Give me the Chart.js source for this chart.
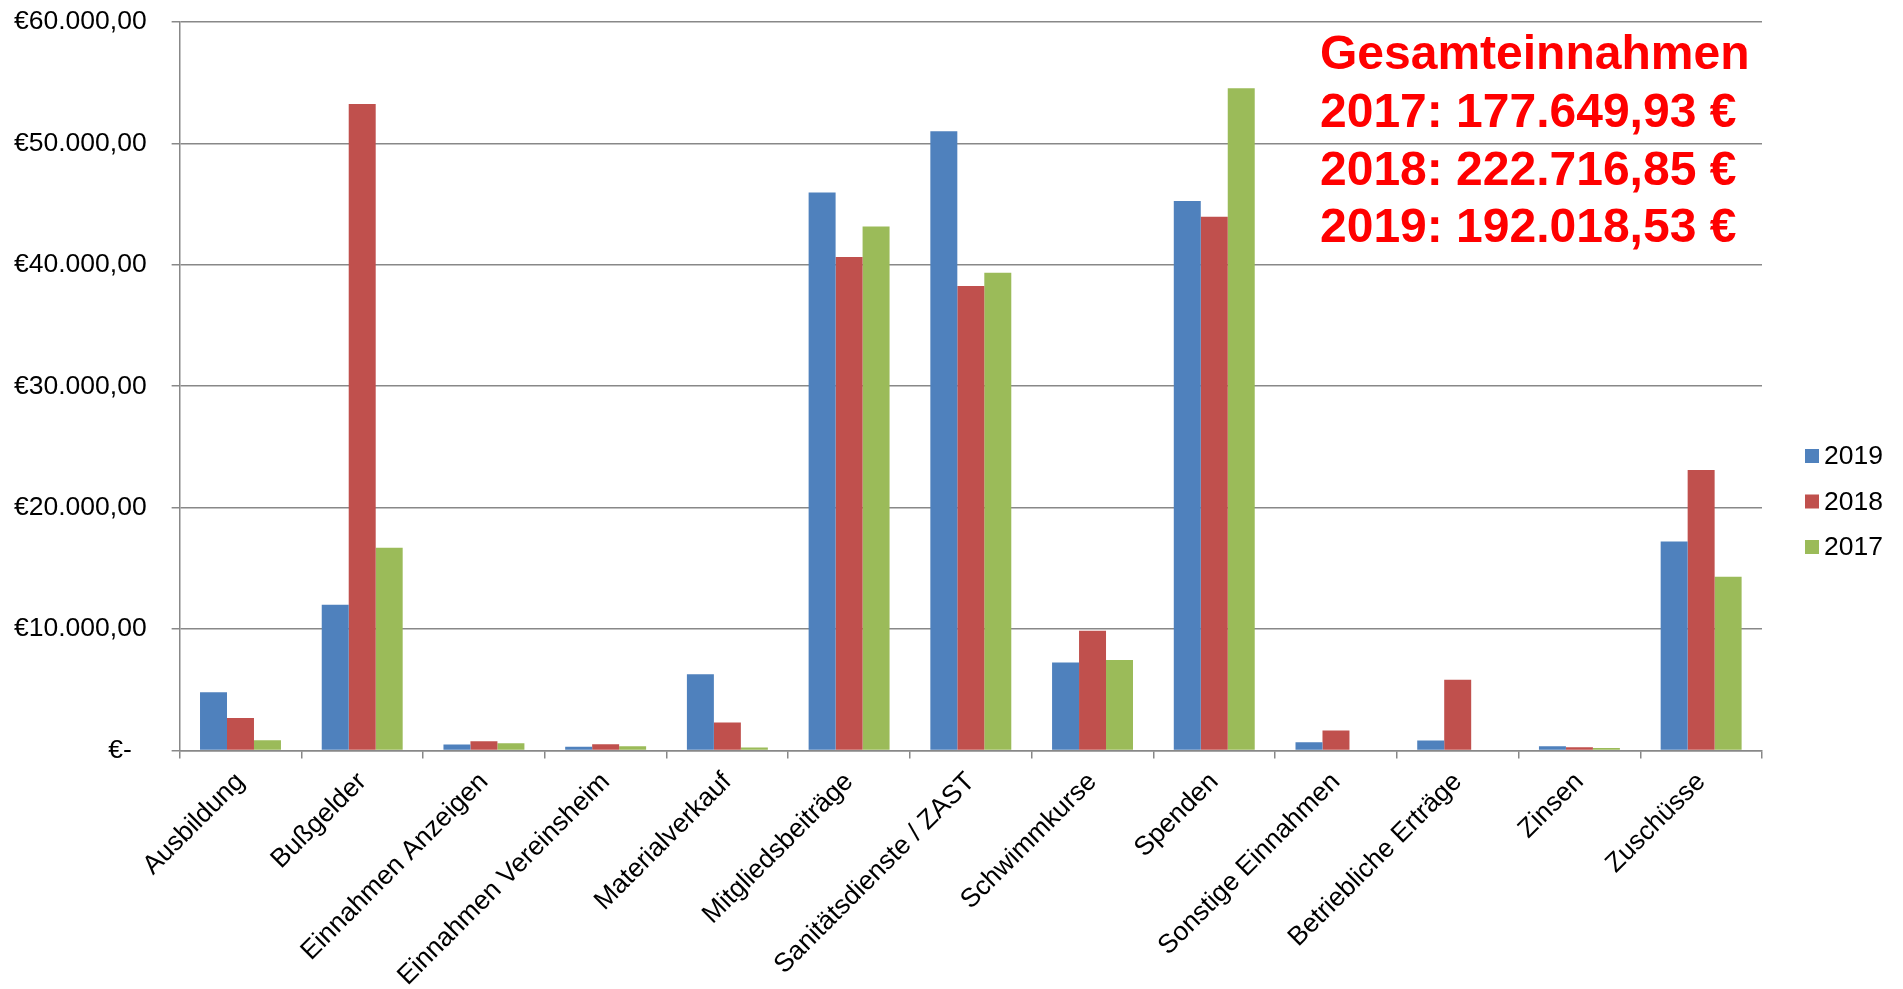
<!DOCTYPE html>
<html><head><meta charset="utf-8">
<script src="https://cdn.jsdelivr.net/npm/chart.js@4/dist/chart.umd.min.js"></script>
<style>html,body{margin:0;padding:0;background:#fff;overflow:hidden}</style>
</head><body>
<canvas id="c" width="1903" height="989" style="display:block;width:1903px;height:989px"></canvas>
<script>
const categories = ["Ausbildung","Bußgelder","Einnahmen Anzeigen","Einnahmen Vereinsheim","Materialverkauf","Mitgliedsbeiträge","Sanitätsdienste / ZAST","Schwimmkurse","Spenden","Sonstige Einnahmen","Betriebliche Erträge","Zinsen","Zuschüsse"];
const seriesLabels = ["2019","2018","2017"];
const values2019 = [4790, 12000, 480, 310, 6280, 45950, 51000, 7250, 45250, 670, 810, 340, 17200];
const values2018 = [2660, 53250, 760, 500, 2300, 40650, 38250, 9850, 43950, 1640, 5810, 260, 23100];
const values2017 = [840, 16700, 580, 340, 230, 43150, 39350, 7450, 54550, 0, 0, 200, 14300];
const yTickValues = [0, 10000, 20000, 30000, 40000, 50000, 60000];
const totalsTitle = "Gesamteinnahmen";
const totalsLines = ["2017: 177.649,93 €", "2018: 222.716,85 €", "2019: 192.018,53 €"];
const seriesColors = ["#4F81BD", "#C0504D", "#9BBB59"];

const FONT = "'Liberation Sans', Arial, sans-serif";
const FS = 26.5;

function euro(v) {
  if (v === 0) return "€-  ";
  const s = Math.round(v).toString().replace(/\B(?=(\d{3})+(?!\d))/g, ".");
  return "€" + s + ",00";
}

const overlay = {
  id: 'overlay',
  afterDraw(chart) {
    const ctx = chart.ctx;
    ctx.save();
    ctx.fillStyle = "#FF0000";
    ctx.font = "bold 48px " + FONT;
    ctx.textAlign = "left";
    ctx.textBaseline = "alphabetic";
    const lines = [totalsTitle].concat(totalsLines);
    const baselines = [69, 127, 184.5, 242];
    lines.forEach((t, i) => ctx.fillText(t, 1320, baselines[i]));
    ctx.font = FS + "px " + FONT;
    ctx.textBaseline = "middle";
    chart.data.datasets.forEach((ds, i) => {
      const cy = 456 + i * 45.5;
      ctx.fillStyle = ds.backgroundColor;
      ctx.fillRect(1805, cy - 7, 14, 14);
      ctx.fillStyle = "#000";
      ctx.fillText(ds.label, 1824, cy + 1);
    });
    ctx.restore();
  }
};

new Chart(document.getElementById('c'), {
  type: 'bar',
  data: {
    labels: categories,
    datasets: [
      {label: seriesLabels[0], data: values2019, backgroundColor: seriesColors[0]},
      {label: seriesLabels[1], data: values2018, backgroundColor: seriesColors[1]},
      {label: seriesLabels[2], data: values2017, backgroundColor: seriesColors[2]}
    ]
  },
  options: {
    responsive: false,
    animation: false,
    devicePixelRatio: 1,
    datasets: {bar: {categoryPercentage: 0.665, barPercentage: 1.0}},
    layout: {padding: {left: -11, right: 141, top: 22, bottom: -11}},
    plugins: {legend: {display: false}, tooltip: {enabled: false}, title: {display: false}},
    scales: {
      x: {
        offset: true,
        afterFit(scale) { scale.paddingLeft = 0; scale.paddingRight = 0; },
        grid: {offset: true, drawOnChartArea: false, drawTicks: true, tickLength: 8, color: '#888', lineWidth: 1.5},
        border: {display: true, color: '#888', width: 1.5},
        ticks: {autoSkip: false, minRotation: 45, maxRotation: 45, color: '#000', padding: 8, font: {size: FS, family: FONT}}
      },
      y: {
        min: 0, max: 60000,
        afterBuildTicks(scale) { scale.ticks = yTickValues.map(v => ({value: v})); },
        afterFit(scale) { scale.paddingTop = 0; scale.paddingBottom = 0; },
        ticks: {callback: (v) => euro(v), color: '#000', padding: 25, font: {size: FS, family: FONT}},
        grid: {color: '#888', lineWidth: 1.5, tickLength: 8, drawTicks: true},
        border: {display: true, color: '#888', width: 1.5}
      }
    }
  },
  plugins: [overlay]
});
</script>
</body></html>
